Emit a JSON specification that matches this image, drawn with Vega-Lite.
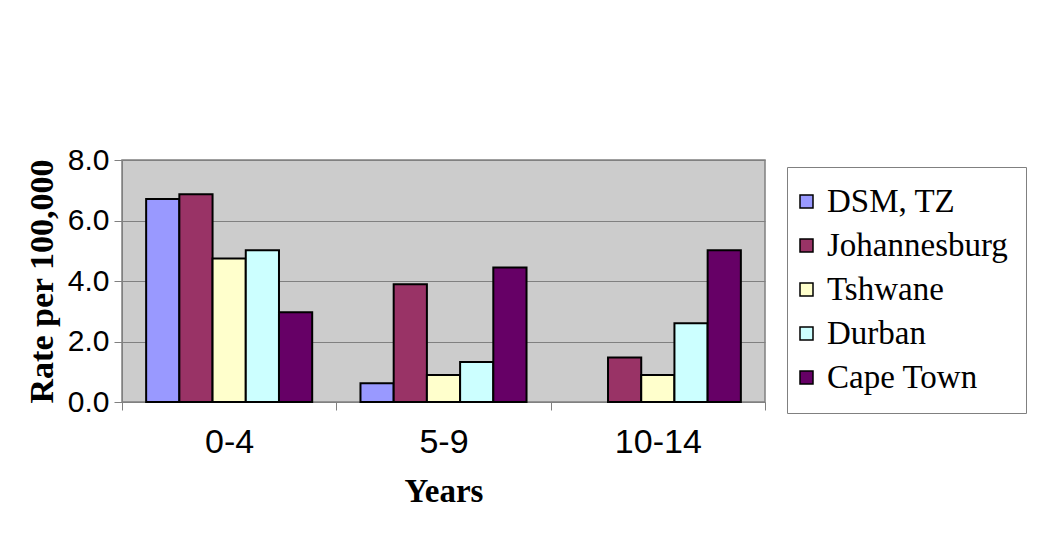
{
  "$schema": "https://vega.github.io/schema/vega-lite/v6.json",
  "autosize": "none",
  "width": 643,
  "height": 242,
  "padding": {"left": 122, "top": 160, "right": 285, "bottom": 155},
  "background": "white",
  "data": {
    "values": [
      {"age": "0-4", "city": "DSM, TZ", "rate": 6.71},
      {"age": "0-4", "city": "Johannesburg", "rate": 6.87},
      {"age": "0-4", "city": "Tshwane", "rate": 4.74},
      {"age": "0-4", "city": "Durban", "rate": 5.02},
      {"age": "0-4", "city": "Cape Town", "rate": 2.97},
      {"age": "5-9", "city": "DSM, TZ", "rate": 0.62},
      {"age": "5-9", "city": "Johannesburg", "rate": 3.89},
      {"age": "5-9", "city": "Tshwane", "rate": 0.89},
      {"age": "5-9", "city": "Durban", "rate": 1.32},
      {"age": "5-9", "city": "Cape Town", "rate": 4.45},
      {"age": "10-14", "city": "Johannesburg", "rate": 1.47},
      {"age": "10-14", "city": "Tshwane", "rate": 0.89},
      {"age": "10-14", "city": "Durban", "rate": 2.6},
      {"age": "10-14", "city": "Cape Town", "rate": 5.02}
    ]
  },
  "mark": {"type": "bar", "stroke": "black", "strokeWidth": 2},
  "encoding": {
    "x": {
      "field": "age",
      "type": "nominal",
      "sort": ["0-4", "5-9", "10-14"],
      "scale": {"paddingInner": 0, "paddingOuter": 0},
      "axis": {
        "title": "Years",
        "titleFont": "Liberation Serif",
        "titleFontSize": 33,
        "titleFontWeight": "bold",
        "titleColor": "black",
        "titlePadding": 16,
        "labelFont": "Liberation Sans",
        "labelFontSize": 34,
        "labelColor": "black",
        "labelAngle": 0,
        "labelPadding": 15,
        "tickBand": "extent",
        "tickSize": 8,
        "tickColor": "#808080",
        "domainColor": "#808080",
        "grid": false
      }
    },
    "xOffset": {
      "field": "city",
      "type": "nominal",
      "sort": ["DSM, TZ", "Johannesburg", "Tshwane", "Durban", "Cape Town"],
      "scale": {"domain": ["DSM, TZ", "Johannesburg", "Tshwane", "Durban", "Cape Town"], "paddingInner": 0, "paddingOuter": 0.727}
    },
    "y": {
      "field": "rate",
      "type": "quantitative",
      "scale": {"domain": [0, 8], "nice": false},
      "axis": {
        "title": "Rate per 100,000",
        "titleFont": "Liberation Serif",
        "titleFontSize": 34,
        "titleFontWeight": "bold",
        "titleColor": "black",
        "titlePadding": 8,
        "values": [0, 2, 4, 6, 8],
        "format": ".1f",
        "labelFont": "Liberation Sans",
        "labelFontSize": 30,
        "labelColor": "black",
        "labelPadding": 5,
        "tickSize": 8,
        "tickColor": "#808080",
        "domainColor": "#808080",
        "gridColor": "#808080",
        "gridWidth": 1
      }
    },
    "color": {
      "field": "city",
      "type": "nominal",
      "scale": {
        "domain": ["DSM, TZ", "Johannesburg", "Tshwane", "Durban", "Cape Town"],
        "range": ["#9999FF", "#993366", "#FFFFCC", "#CCFFFF", "#660066"]
      },
      "legend": {
        "title": null,
        "orient": "none",
        "legendX": 665,
        "legendY": 7,
        "padding": 18,
        "strokeColor": "#808080",
        "fillColor": "white",
        "symbolType": "square",
        "symbolSize": 169,
        "symbolStrokeColor": "black",
        "symbolStrokeWidth": 1.5,
        "symbolOffset": -15,
        "labelFont": "Liberation Serif",
        "labelFontSize": 33,
        "labelColor": "black",
        "labelOffset": 4,
        "labelLimit": 300,
        "rowPadding": 10
      }
    }
  },
  "config": {
    "view": {"fill": "#CCCCCC", "stroke": "#808080", "strokeWidth": 1.5}
  }
}
